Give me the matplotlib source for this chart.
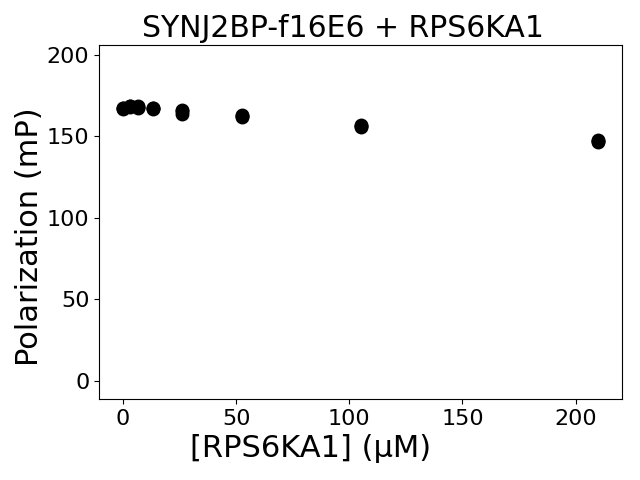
import numpy as np
import matplotlib
matplotlib.use("Agg")
import matplotlib.pyplot as plt

# concentracoes e replicatas de polarizacao
conc = [0, 3.28, 6.56, 13.1, 26.25, 52.5, 105, 210]
rep1 = [167.5, 168.5, 168.0, 167.5, 166.0, 163.0, 157.0, 147.5]
rep2 = [167.0, 168.0, 167.5, 167.0, 164.0, 162.0, 156.0, 146.5]
rep3 = [167.5, 168.5, 168.5, 167.5, 165.5, 162.5, 156.5, 147.0]

fig, ax = plt.subplots(figsize=(6.4, 4.8), dpi=100)
for r in (rep1, rep2, rep3):
    ax.plot(conc, r, 'o', color='black', markersize=9)

ax.set_title("SYNJ2BP-f16E6 + RPS6KA1", fontsize=21.5, x=0.467)
ax.set_xlabel("[RPS6KA1] (μM)", fontsize=22, x=0.405)
ax.set_ylabel("Polarization (mP)", fontsize=22, y=0.458, labelpad=2)
ax.set_ylim(-11, 206)
ax.set_yticks([0, 50, 100, 150, 200])
ax.set_xticks([0, 50, 100, 150, 200])
ax.tick_params(labelsize=16)
fig.subplots_adjust(left=0.155, right=0.972, top=0.906, bottom=0.169)
fig.savefig("out.png")
